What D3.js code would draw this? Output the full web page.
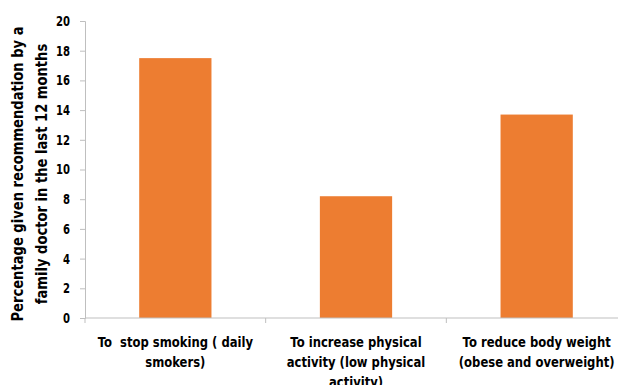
<!DOCTYPE html>
<html>
<head>
<meta charset="utf-8">
<script src="https://cdn.jsdelivr.net/npm/d3@7"></script>
<style>
  body { margin: 0; background: #fff; }
  text { font-family: "DejaVu Sans", sans-serif; font-weight: bold; fill: #000; white-space: pre; }
</style>
</head>
<body>
<script>
// data
var categories = ["stop", "activity", "weight"];
var values = [17.5, 8.2, 13.7];
var labelLines = [
  ["To  stop smoking ( daily", "smokers)"],
  ["To increase physical", "activity (low physical", "activity)"],
  ["To reduce body weight", "(obese and overweight)"]
];
var yTicks = [0, 2, 4, 6, 8, 10, 12, 14, 16, 18, 20];
var yTitle = ["Percentage given recommendation by a", "family doctor in the last 12 months"];

// set the dimensions and margins of the graph
var margin = {top: 21, right: -9, bottom: 67, left: 85},
width = 618 - margin.left - margin.right,
height = 385 - margin.top - margin.bottom;

var x = d3.scaleBand().domain(categories).range([0, width]).paddingInner(0.6).paddingOuter(0.3);
var y = d3.scaleLinear().domain([0, 20]).range([height, 0]);

var svg = d3.select("body").append("svg")
.attr("width", 618)
.attr("height", 385)
.append("g")
.attr("transform", "translate(" + margin.left + "," + margin.top + ")");

// bars
svg.selectAll("rect").data(values).enter().append("rect")
.attr("x", function(d, i) { return x(categories[i]); })
.attr("y", function(d) { return y(d); })
.attr("width", x.bandwidth())
.attr("height", function(d) { return height - y(d); })
.attr("fill", "#ED7D31");

// Y axis (labels squeezed to look like the narrow font)
var yAxis = svg.append("g").call(d3.axisLeft(y).tickValues(yTicks).tickSize(5).tickPadding(10));
yAxis.select(".domain").attr("stroke", "#bfbfbf");
yAxis.selectAll(".tick line").attr("stroke", "#bfbfbf");
yAxis.selectAll("text")
.attr("x", 0)
.attr("transform", "translate(-15,0) scale(0.72,1)")
.style("font-size", "14px").style("font-family", null);

// X axis: ticks at band boundaries
var xAxisG = svg.append("g").attr("transform", "translate(0," + height + ")");
xAxisG.append("line").attr("x1", 0).attr("x2", width).attr("stroke", "#bfbfbf");
var step = x.step();
var bounds = [0, 1, 2, 3].map(function(i) { return x(categories[0]) - x.paddingOuter() * step + i * step; });
xAxisG.selectAll(".btick").data(bounds).enter().append("line")
.attr("x1", function(d) { return d; }).attr("x2", function(d) { return d; })
.attr("y1", 0).attr("y2", 5).attr("stroke", "#bfbfbf");

// category labels
categories.forEach(function(c, i) {
  var t = xAxisG.append("text")
  .attr("transform", "translate(" + (x(c) + x.bandwidth() / 2) + ",28.5) scale(0.8,1)")
  .attr("text-anchor", "middle")
  .style("font-size", "14.5px");
  labelLines[i].forEach(function(l, j) {
    t.append("tspan").attr("x", 0).attr("y", j * 20.5).text(l);
  });
});

// Y title
var yt = svg.append("text")
.attr("transform", "translate(-62," + (height / 2 + 4.5) + ") rotate(-90) scale(0.82,1)")
.attr("text-anchor", "middle")
.style("font-size", "16px");
yTitle.forEach(function(l, j) {
  yt.append("tspan").attr("x", 0).attr("y", j * 24.5).text(l);
});
</script>
</body>
</html>
